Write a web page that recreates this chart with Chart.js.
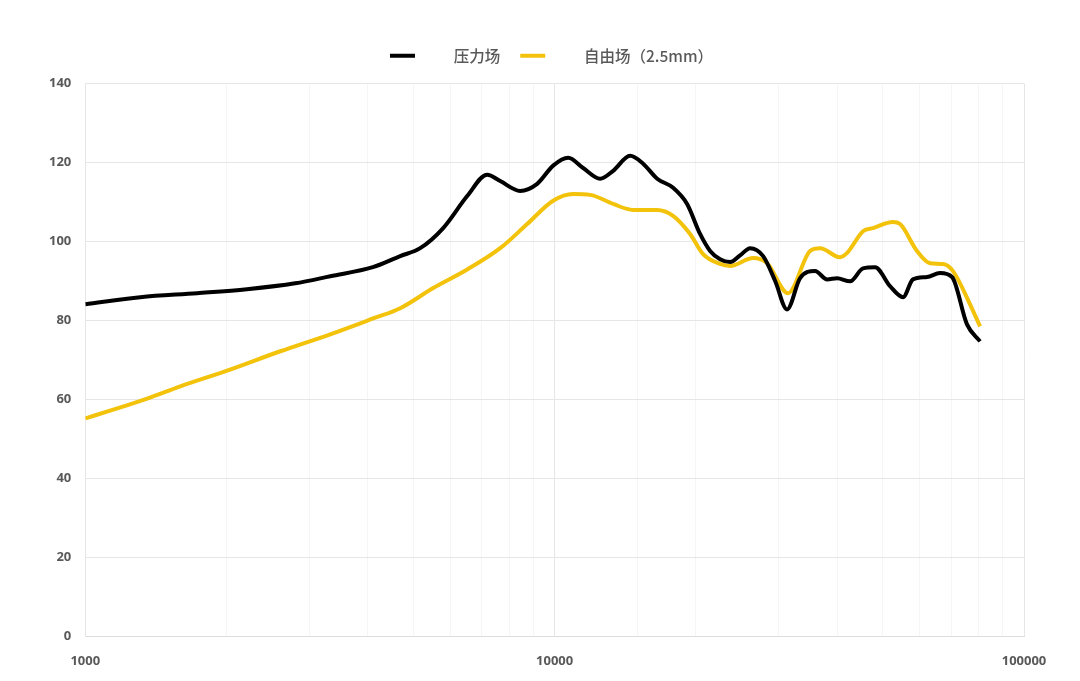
<!DOCTYPE html>
<html>
<head>
<meta charset="utf-8">
<script src="https://cdn.jsdelivr.net/npm/chart.js@4.4.1/dist/chart.umd.min.js"></script>
<style>
  html, body { margin: 0; padding: 0; background: #ffffff; }
  #wrap { width: 1080px; height: 681px; position: relative; }
</style>
</head>
<body>
<div id="wrap"><canvas id="c"></canvas></div>
<script>
// ---- data ----
const seriesNames = ['压力场', '自由场（2.5mm）'];

const pressureFreq = [1000, 1310, 1730, 2210, 2800, 3326, 4100, 4688, 5170, 5788, 6511, 7181, 7656, 8442, 9178, 9926, 10685, 11500, 12500, 13323, 14480, 15435, 16537, 17881, 19150, 20410, 21440, 22517, 23650, 24840, 26090, 27810, 29500, 31270, 33340, 35880, 38060, 39970, 42600, 45400, 48160, 51830, 55240, 58000, 62150, 66230, 70250, 75600, 80600];
const pressureLevel = [84.1, 85.9, 86.9, 87.9, 89.4, 91.2, 93.5, 96.3, 98.3, 103.4, 111.5, 116.9, 115.3, 112.8, 114.6, 119.2, 121.2, 118.6, 115.9, 117.9, 121.7, 119.7, 115.9, 113.6, 109.5, 101.9, 97.6, 95.5, 94.8, 96.5, 98.3, 96.3, 90.0, 82.8, 90.7, 92.5, 90.4, 90.7, 89.9, 93.2, 93.5, 88.7, 85.9, 90.4, 91.0, 92.0, 91.0, 79.0, 74.7];

const freeFreq = [1000, 1147, 1355, 1594, 2005, 2603, 3326, 4104, 4688, 5511, 6511, 7656, 8737, 9926, 10950, 11901, 13323, 14694, 16537, 17881, 19436, 20714, 22517, 23650, 26480, 28360, 31420, 35010, 36770, 40560, 41980, 45400, 47690, 52600, 54440, 59160, 63070, 67220, 70590, 76740, 80600];
const freeLevel = [55.2, 57.4, 60.2, 63.3, 67.3, 72.2, 76.5, 80.5, 83.1, 88.2, 92.9, 98.3, 104.4, 110.3, 112.0, 111.8, 109.5, 108.0, 108.0, 106.5, 101.9, 96.8, 94.3, 93.8, 95.8, 94.5, 86.9, 97.6, 98.3, 96.0, 97.1, 102.6, 103.4, 104.9, 104.4, 97.6, 94.5, 94.3, 92.5, 84.1, 78.5];

const xMin = 1000, xMax = 100000;
const yMin = 0, yMax = 140, yStep = 20;

// ---- build ----
const toPoints = (xs, ys) => xs.map((x, i) => ({ x: x, y: ys[i] }));
const isDecade = v => Math.abs(Math.log10(v) - Math.round(Math.log10(v))) < 1e-9;
const FONT = "'Noto Sans', 'Noto Sans CJK SC', sans-serif";

const legendSpacer = {
  id: 'legendSpacer',
  beforeInit(chart) {
    const origFit = chart.legend.fit;
    chart.legend.fit = function () {
      origFit.bind(chart.legend)();
      this.height += 10;
    };
  },
  afterLayout(chart) {
    chart.legend.left += 22;
    chart.legend.right += 22;
  }
};

new Chart(document.getElementById('c'), {
  type: 'line',
  plugins: [legendSpacer],
  data: {
    datasets: [
      {
        label: seriesNames[0],
        data: toPoints(pressureFreq, pressureLevel),
        borderColor: '#000000',
        backgroundColor: '#000000',
        borderWidth: 4,
        pointRadius: 0,
        cubicInterpolationMode: 'monotone'
      },
      {
        label: seriesNames[1],
        data: toPoints(freeFreq, freeLevel),
        borderColor: '#F3C20A',
        backgroundColor: '#F3C20A',
        borderWidth: 4,
        pointRadius: 0,
        cubicInterpolationMode: 'monotone'
      }
    ]
  },
  options: {
    responsive: true,
    maintainAspectRatio: false,
    animation: false,
    layout: { padding: { top: 28, left: 35, right: 56, bottom: -5 } },
    plugins: {
      tooltip: { enabled: false },
      legend: {
        position: 'top',
        align: 'center',
        labels: {
          boxWidth: 25,
          boxHeight: 4,
          padding: 20,
          color: '#595959',
          font: { family: "'Noto Sans CJK SC', sans-serif", size: 15.5, weight: '500' },
          generateLabels: (chart) => chart.data.datasets.map((ds, i) => ({
            text: '\u3000\u3000' + ds.label,
            fillStyle: ds.borderColor,
            strokeStyle: ds.borderColor,
            lineWidth: 0,
            hidden: false,
            datasetIndex: i,
            fontColor: '#595959'
          }))
        }
      }
    },
    scales: {
      x: {
        type: 'logarithmic',
        min: xMin,
        max: xMax,
        border: { color: '#dcdcdc', width: 1 },
        grid: {
          drawTicks: false,
          color: (ctx) => (ctx.tick && isDecade(ctx.tick.value)) ? '#e6e6e6' : '#f5f5f5',
          lineWidth: 1
        },
        ticks: {
          autoSkip: false,
          maxRotation: 0,
          padding: 17,
          color: '#595959',
          font: { family: FONT, size: 13, weight: 'bold' },
          callback: (v) => isDecade(v) ? String(Math.round(v)) : ''
        }
      },
      y: {
        min: yMin,
        max: yMax,
        border: { color: '#e6e6e6', width: 1 },
        grid: { drawTicks: false, color: '#e6e6e6', lineWidth: 1 },
        ticks: {
          stepSize: yStep,
          padding: 14,
          color: '#595959',
          font: { family: FONT, size: 13, weight: 'bold' }
        }
      }
    }
  }
});
</script>
</body>
</html>
